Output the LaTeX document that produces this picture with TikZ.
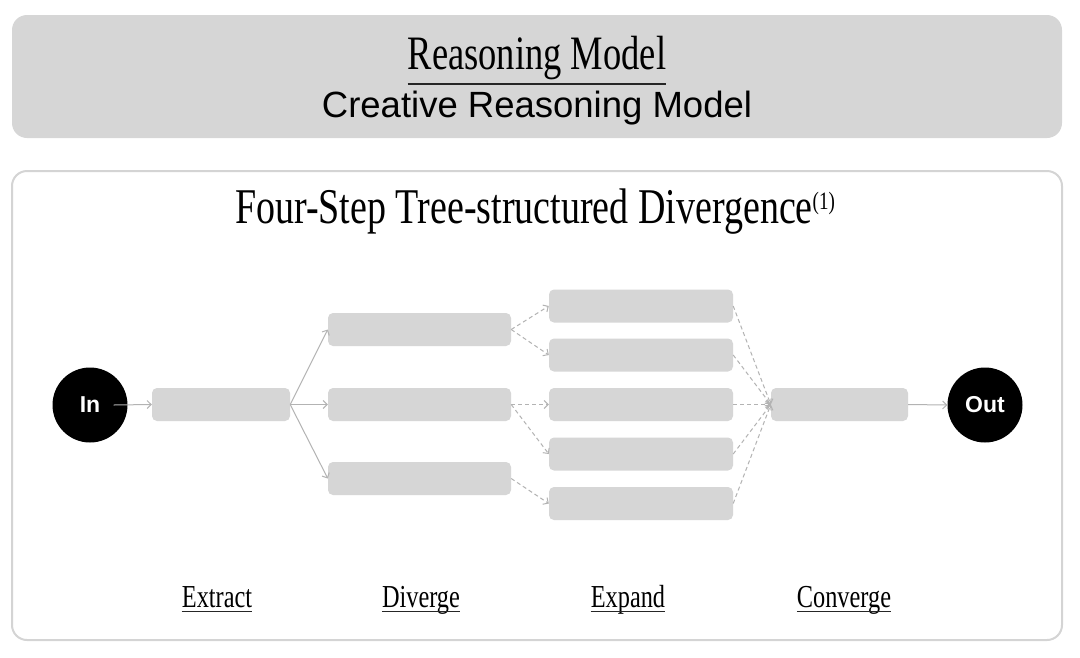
\documentclass[tikz,border=0pt]{standalone}
\usepackage{fontspec}
\setmainfont{Liberation Sans}
\newfontfamily\dispserif[FakeStretch=0.76]{Liberation Serif}
\usetikzlibrary{arrows.meta}
\definecolor{boxgray}{HTML}{D6D6D6}
\definecolor{linegray}{HTML}{B3B3B3}
\definecolor{framegray}{HTML}{D4D4D4}
\begin{document}
\begin{tikzpicture}[x=1pt,y=-1pt,
  blk/.style={fill=boxgray, draw=none, rounded corners=5pt, minimum height=33pt, inner sep=0pt},
  endpt/.style={circle, fill=black, minimum size=75pt, inner sep=0pt, text=white, font=\bfseries\fontsize{23}{25}\selectfont},
  conn/.style={draw=linegray, line width=1pt, -{Straight Barb[length=4pt,width=8pt]}},
  dconn/.style={conn, dash pattern=on 4pt off 3pt},
  steplabel/.style={anchor=base, inner sep=0pt, font=\dispserif\fontsize{32}{36}\selectfont},
  uline/.style={draw=black!85, line width=1.2pt}
]
\useasboundingbox (0,0) rectangle (1080,657);
% frames
\path[fill=boxgray, rounded corners=15pt] (12,15) rectangle (1062,138);
\path[draw=framegray, line width=2pt, fill=white, rounded corners=15pt] (12,171) rectangle (1062,640);
% header texts
\node[anchor=base, inner sep=0pt, font=\dispserif\fontsize{48}{54}\selectfont] (rm) at (537,69) {Reasoning Model};
\draw[uline] ([yshift=-15pt]rm.base west) -- ([yshift=-15pt]rm.base east);
\node[anchor=base, inner sep=0pt, font=\fontsize{36.5}{40}\selectfont] (crm) at (537,117) {Creative Reasoning Model};
\node[anchor=base, inner sep=0pt, font=\dispserif\fontsize{50}{56}\selectfont] (title) at (535,223) {Four-Step Tree-structured Divergence\raisebox{14pt}{\fontsize{25}{27}\selectfont(1)}};
% nodes
\node[endpt] (in) at (90,405) {In};
\node[endpt] (out) at (985,405) {Out};
\node[blk, minimum width=138pt] (ex) at (221,404.5) {};
\node[blk, minimum width=183pt] (d1) at (419.5,329.5) {};
\node[blk, minimum width=183pt] (d2) at (419.5,404.5) {};
\node[blk, minimum width=183pt] (d3) at (419.5,478.5) {};
\node[blk, minimum width=184pt] (e1) at (641,306) {};
\node[blk, minimum width=184pt] (e2) at (641,355) {};
\node[blk, minimum width=184pt] (e3) at (641,404.5) {};
\node[blk, minimum width=184pt] (e4) at (641,454) {};
\node[blk, minimum width=184pt] (e5) at (641,503.5) {};
\node[blk, minimum width=137pt] (cv) at (839.5,404.5) {};
% connectors
\draw[conn] ([xshift=-14pt]in.east) -- (ex.west);
\draw[conn] (ex.east) -- (d1.west);
\draw[conn] (ex.east) -- (d2.west);
\draw[conn] (ex.east) -- (d3.west);
\draw[dconn] (d1.east) -- (e1.west);
\draw[dconn] (d1.east) -- (e2.west);
\draw[dconn] (d2.east) -- (e3.west);
\draw[dconn] (d2.east) -- (e4.west);
\draw[dconn] (d3.east) -- (e5.west);
\foreach \e in {e1,e2,e3,e4,e5} \draw[dconn] (\e.east) -- (cv.west);
\draw[conn] (cv.east) -- (out.west);
% step labels
\foreach \nm/\x/\t in {lex/217/Extract, ldv/421/Diverge, lep/628/Expand, lcv/844/Converge}{
  \node[steplabel] (\nm) at (\x,607) {\t};
  \draw[uline, line width=1pt] ([yshift=-4pt]\nm.base west) -- ([yshift=-4pt]\nm.base east);
}
\end{tikzpicture}
\end{document}
